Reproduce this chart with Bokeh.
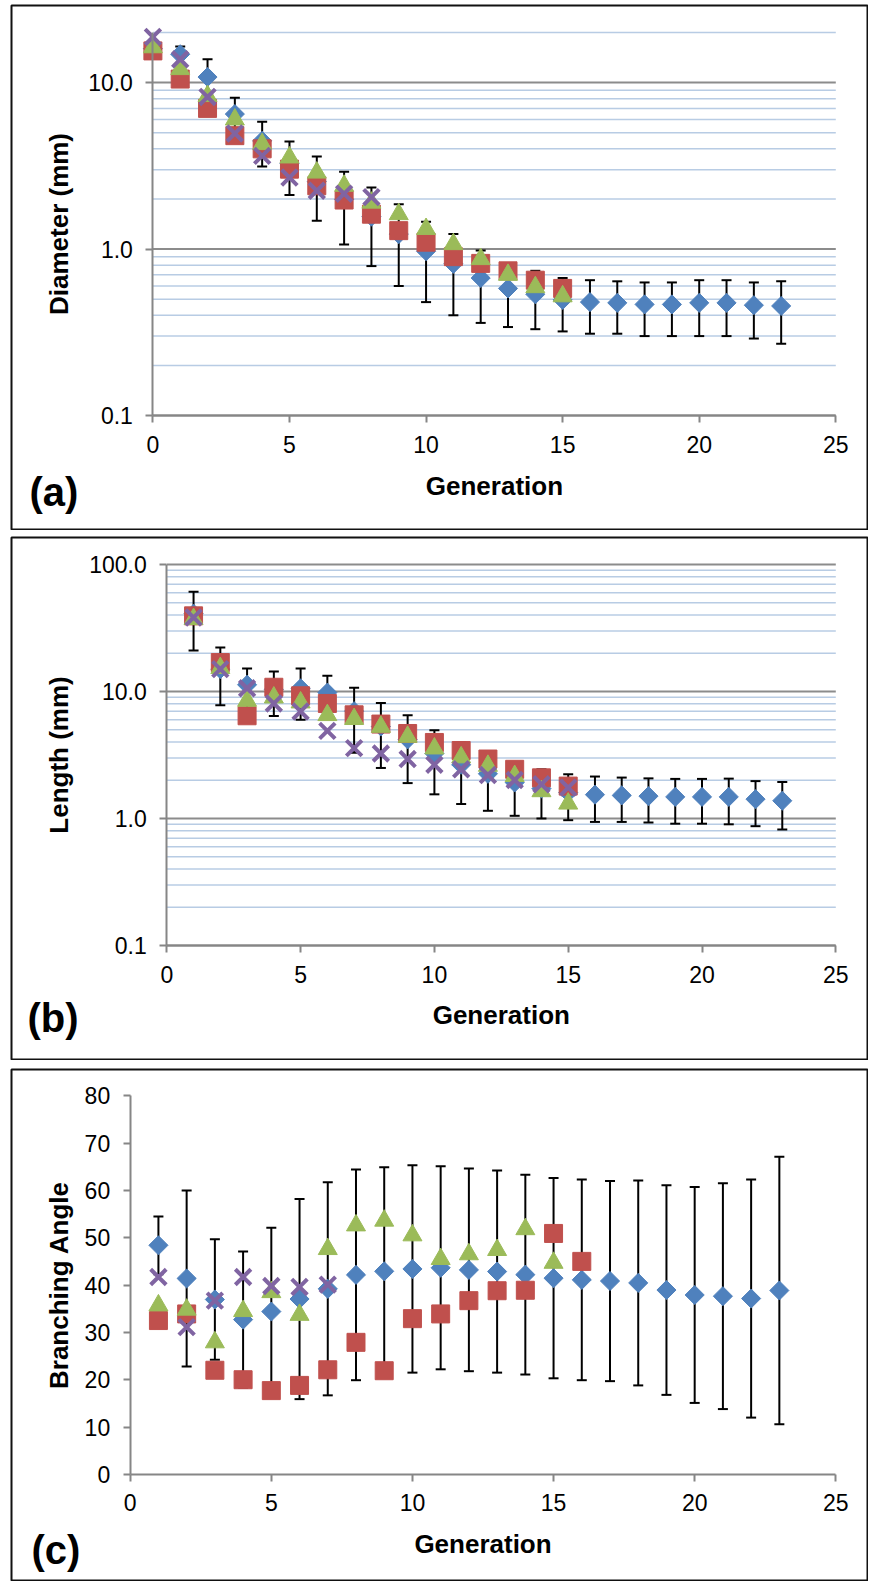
import math
from bokeh.plotting import figure
from bokeh.models import Range1d, FixedTicker, PrintfTickFormatter, Label
from bokeh.embed import file_html
from bokeh.resources import INLINE

FONT = "Liberation Sans"
BLUE, RED, GREEN, PURPLE = "#4F81BD", "#C0504D", "#9BBB59", "#8064A2"
AXIS = "#868686"
GRID_MAJOR = "#8C8C8C"
GRID_MINOR = "#B8CCE4"

# ---------------- data ----------------
x_ticks = [0, 5, 10, 15, 20, 25]

# (a) Diameter (mm)
gen_a_blue = list(range(0, 24))
diam_blue = [16.0, 14.8, 10.8, 6.47, 4.47, 3.27, 2.54, 1.99, 1.565, 1.23, 0.97, 0.815,
             0.67, 0.58, 0.535, 0.495, 0.48, 0.475, 0.465, 0.465, 0.475, 0.475, 0.46, 0.455]
diam_blue_sd = [0.8, 1.7, 3.0, 1.63, 1.34, 1.16, 1.06, 0.925, 0.775, 0.63, 0.49, 0.415,
                0.31, 0.24, 0.205, 0.175, 0.17, 0.165, 0.165, 0.165, 0.175, 0.175, 0.17, 0.185]
gen_a_rg = list(range(0, 16))
diam_red = [15.5, 10.5, 7.0, 4.8, 4.0, 3.02, 2.4, 1.97, 1.62, 1.29, 1.10, 0.90, 0.82, 0.74, 0.65, 0.58]
diam_green = [16.3, 12.05, 8.3, 6.0, 4.27, 3.55, 2.88, 2.4, 1.9, 1.62, 1.32, 1.07, 0.87, 0.70, 0.59, 0.52]
gen_a_purple = list(range(0, 9))
diam_purple = [18.8, 13.8, 8.2, 4.95, 3.63, 2.69, 2.24, 2.15, 2.05]
a_major = [0.1, 1, 10]
a_minor = [0.2, 0.3, 0.4, 0.5, 0.6, 0.7, 0.8, 0.9, 2, 3, 4, 5, 6, 7, 8, 9, 20]

# (b) Length (mm)
gen_b_blue = list(range(1, 24))
len_blue = [41, 15.0, 11.3, 10.4, 10.6, 9.8, 7.0, 5.3, 4.2, 3.25, 2.65, 2.25, 1.92, 1.72,
            1.6, 1.54, 1.52, 1.5, 1.48, 1.48, 1.48, 1.42, 1.38]
len_blue_sd = [20, 7.2, 3.9, 4.0, 4.6, 3.5, 3.7, 2.8, 2.3, 1.7, 1.35, 1.1, 0.87, 0.72,
               0.63, 0.6, 0.58, 0.57, 0.57, 0.57, 0.58, 0.55, 0.56]
gen_b_rgp = list(range(1, 16))
len_red = [39.4, 16.9, 6.44, 10.8, 9.25, 8.05, 6.55, 5.54, 4.67, 3.97, 3.43, 2.94, 2.44, 2.09, 1.8]
len_green = [37.2, 15.3, 8.45, 8.97, 8.2, 6.52, 6.07, 5.27, 4.4, 3.56, 3.03, 2.6, 2.16, 1.64, 1.31]
len_purple = [38.3, 15.0, 10.6, 8.05, 6.96, 4.9, 3.58, 3.25, 2.94, 2.65, 2.44, 2.2, 2.01, 1.86, 1.75]
b_major = [0.1, 1, 10, 100]
b_minor = [0.2, 0.3, 0.4, 0.5, 0.6, 0.7, 0.8, 0.9, 2, 3, 4, 5, 6, 7, 8, 9,
           20, 30, 40, 50, 60, 70, 80, 90]

# (c) Branching Angle
gen_c_blue = list(range(1, 24))
ang_blue = [48.4, 41.4, 36.95, 32.7, 34.4, 37.05, 39.2, 42.15, 42.9, 43.4, 43.65, 43.2,
            42.85, 42.2, 41.45, 41.1, 40.85, 40.45, 38.95, 37.9, 37.65, 37.15, 38.85]
ang_blue_sd = [6.1, 18.6, 12.75, 14.4, 17.7, 21.15, 22.5, 22.25, 22.0, 21.9, 21.45, 21.4,
               21.35, 21.1, 21.15, 21.2, 21.15, 21.65, 22.15, 22.8, 23.85, 25.15, 28.25]
gen_c_red = list(range(1, 17))
ang_red = [32.5, 33.9, 22.0, 20.0, 17.7, 18.8, 22.1, 27.9, 21.9, 32.9, 33.9, 36.7, 38.8, 38.9, 50.9, 45.0]
gen_c_green = list(range(1, 16))
ang_green = [35.7, 34.8, 27.9, 34.5, 38.5, 33.7, 47.6, 52.6, 53.6, 50.5, 45.5, 46.5, 47.4, 51.8, 44.7]
gen_c_purple = list(range(1, 8))
ang_purple = [41.7, 31.1, 36.7, 41.7, 39.8, 39.6, 40.1]
c_ticks = [0, 10, 20, 30, 40, 50, 60, 70, 80]

# ---------------- layout (page pixels) ----------------
FIG_LEFT = 10
WIDTH = 858


def make_scale(v0, p0, v1, p1, log):
    f = math.log10 if log else (lambda v: v)
    finv = (lambda u: 10 ** u) if log else (lambda u: u)
    a = (f(v1) - f(v0)) / (p1 - p0)
    return lambda pix: finv(f(v0) + (pix - p0) * a)


def make_panel(fig_top, margin_top, height, x_px, y_ref, log, x_axis_at, y_bounds,
               y_major, y_minor, y_fmt, ylabel, ylabel_pos, xlabel_pos, tag, tag_pos,
               blue, red, green, purple):
    sx = make_scale(0, x_px[0], 25, x_px[1], False)
    (v0, p0), (v1, p1) = y_ref
    sy = make_scale(v0, p0, v1, p1, log)
    fl, fr = FIG_LEFT + 1, FIG_LEFT + WIDTH - 1
    ft, fb = fig_top + 1, fig_top + height - 1

    p = figure(width=WIDTH, height=height, output_backend="svg", toolbar_location=None,
               x_range=Range1d(sx(fl), sx(fr)), y_range=Range1d(sy(fb), sy(ft)),
               y_axis_type="log" if log else "linear")
    p.min_border_left = p.min_border_right = p.min_border_top = p.min_border_bottom = 1
    p.outline_line_color = "#111111"
    p.outline_line_width = 2
    p.background_fill_color = "white"
    p.border_fill_color = "white"
    p.styles = {"margin-left": f"{FIG_LEFT}px", "margin-top": f"{margin_top}px"}
    p.grid.visible = False

    # axes drawn at the data origin
    p.xaxis.fixed_location = x_axis_at
    p.xaxis.bounds = (0, 25)
    p.xaxis.ticker = FixedTicker(ticks=x_ticks)
    p.yaxis.fixed_location = 0
    p.yaxis.bounds = y_bounds
    if y_minor is not None:
        p.yaxis.ticker = FixedTicker(ticks=y_major, minor_ticks=y_minor)
    else:
        p.yaxis.ticker = FixedTicker(ticks=y_major)
    if y_fmt:
        p.yaxis.formatter = PrintfTickFormatter(format=y_fmt)
    for ax in (p.xaxis[0], p.yaxis[0]):
        ax.axis_line_color = AXIS
        ax.axis_line_width = 2
        ax.major_tick_line_color = AXIS
        ax.major_tick_line_width = 2
        ax.major_tick_in = 0
        ax.major_tick_out = 7
        ax.minor_tick_line_color = None
        ax.major_label_text_font = FONT
        ax.major_label_text_font_size = "23px"
        ax.major_label_text_color = "black"
        ax.major_label_standoff = 13

    # horizontal gridlines between x = 0 and x = 25
    if y_minor is not None:
        p.segment(x0=0, x1=25, y0=y_minor, y1=y_minor, line_color=GRID_MINOR, line_width=1.5)
        p.segment(x0=0, x1=25, y0=y_major, y1=y_major, line_color=GRID_MAJOR, line_width=2)

    # error bars of the blue series
    bx, by, bsd = blue
    upper = [v + s for v, s in zip(by, bsd)]
    lower = [v - s for v, s in zip(by, bsd)]
    p.segment(x0=bx, x1=bx, y0=lower, y1=upper, line_color="black", line_width=2)
    p.scatter(bx, upper, marker="dash", size=10, line_color="black", line_width=2)
    p.scatter(bx, lower, marker="dash", size=10, line_color="black", line_width=2)

    p.scatter(bx, by, marker="square", angle=math.pi / 4, size=13.5,
              fill_color=BLUE, line_color=BLUE)
    rx, ry = red
    p.scatter(rx, ry, marker="square", size=18, fill_color=RED, line_color=RED)
    gx, gy = green
    p.scatter(gx, gy, marker="triangle", size=19, fill_color=GREEN, line_color=GREEN)
    px_, py_ = purple
    p.scatter(px_, py_, marker="x", size=22, line_color=PURPLE, line_width=4)

    # texts
    yx, yy = ylabel_pos
    p.add_layout(Label(x=sx(yx), y=sy(yy), text=ylabel, angle=math.pi / 2,
                       text_font=FONT, text_font_size="26px", text_font_style="bold",
                       text_color="black", text_align="center", text_baseline="middle"))
    gx_, gy_ = xlabel_pos
    p.add_layout(Label(x=sx(gx_), y=sy(gy_), text="Generation",
                       text_font=FONT, text_font_size="26px", text_font_style="bold",
                       text_color="black", text_align="center", text_baseline="middle"))
    tx, ty = tag_pos
    p.add_layout(Label(x=sx(tx), y=sy(ty), text=tag,
                       text_font=FONT, text_font_size="40px", text_font_style="bold",
                       text_color="black", text_align="left", text_baseline="middle"))
    return p


pa = make_panel(4, 4, 526, (152.4, 835.3), ((0.1, 415.0), (10, 82.1)), True, 0.1, (0.1, 20),
                a_major, a_minor, "%.1f", "Diameter (mm)", (58, 223.5), (493.9, 485), "(a)",
                (29, 491),
                (gen_a_blue, diam_blue, diam_blue_sd), (gen_a_rg, diam_red),
                (gen_a_rg, diam_green), (gen_a_purple, diam_purple))
pb = make_panel(536, 6, 524, (166.3, 835.3), ((0.1, 945.0), (100, 564.0)), True, 0.1, (0.1, 100),
                b_major, b_minor, "%.1f", "Length (mm)", (58, 754.5), (500.8, 1014), "(b)",
                (27, 1017.5),
                (gen_b_blue, len_blue, len_blue_sd), (gen_b_rgp, len_red),
                (gen_b_rgp, len_green), (gen_b_rgp, len_purple))
pc = make_panel(1068, 8, 513, (129.7, 835.3), ((0, 1473.9), (80, 1095.2)), False, 0, (0, 80),
                c_ticks, None, None, "Branching Angle", (58, 1284.5), (482.5, 1543.5), "(c)",
                (31, 1549),
                (gen_c_blue, ang_blue, ang_blue_sd), (gen_c_red, ang_red),
                (gen_c_green, ang_green), (gen_c_purple, ang_purple))

open("out.html", "w").write(file_html([pa, pb, pc], INLINE))
